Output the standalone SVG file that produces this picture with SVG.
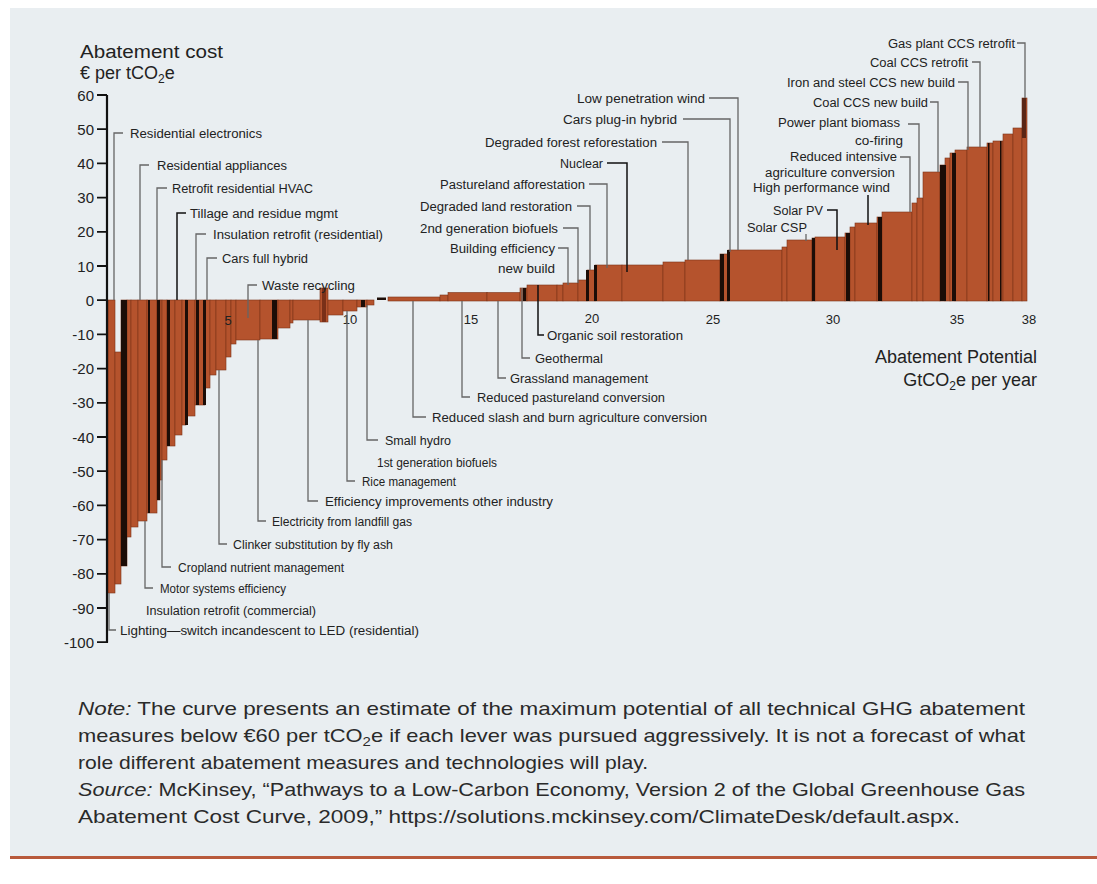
<svg xmlns="http://www.w3.org/2000/svg" width="1097" height="884" viewBox="0 0 1097 884">
<style>
.b{fill:#b5532d;stroke:#7c3318;stroke-width:0.6}
.d{fill:#1c0d07}
.l{font-family:"Liberation Sans",Arial,sans-serif;font-size:12.5px;fill:#222}
.r{text-anchor:end}
.ld{fill:none;stroke:#666;stroke-width:1.3}
.lk{fill:none;stroke:#111;stroke-width:1.5}
.yt{font-family:"Liberation Sans",Arial,sans-serif;font-size:15px;fill:#222;text-anchor:end}
.xt{font-family:"Liberation Sans",Arial,sans-serif;font-size:13px;fill:#222;text-anchor:middle}
.tt{font-family:"Liberation Sans",Arial,sans-serif;font-size:18px;fill:#222}
.nt{font-family:"Liberation Sans",Arial,sans-serif;font-size:19px;fill:#2a2a2a}
</style>
<rect x="0" y="0" width="1097" height="884" fill="#ffffff"/>
<rect x="10" y="8" width="1087" height="848" fill="#e9eef1"/>
<rect x="10" y="856" width="1087" height="3" fill="#b85a3c"/>

<g id="bars">
<rect class="b" x="108" y="300" width="7" height="293"/>
<rect class="b" x="115" y="352" width="6" height="232"/>
<rect class="b" x="121" y="300" width="6" height="266"/>
<rect class="b" x="127" y="300" width="4" height="237"/>
<rect class="b" x="131" y="300" width="7" height="227"/>
<rect class="b" x="138" y="300" width="9" height="221"/>
<rect class="b" x="147" y="300" width="10" height="213"/>
<rect class="b" x="157" y="300" width="3" height="200"/>
<rect class="b" x="160" y="300" width="2" height="180"/>
<rect class="b" x="162" y="300" width="5" height="160"/>
<rect class="b" x="167" y="300" width="8" height="146"/>
<rect class="b" x="175" y="300" width="7" height="135"/>
<rect class="b" x="182" y="300" width="4" height="125"/>
<rect class="b" x="186" y="300" width="9" height="116"/>
<rect class="b" x="195" y="300" width="10" height="105"/>
<rect class="b" x="205" y="300" width="5" height="88"/>
<rect class="b" x="210" y="300" width="6" height="75"/>
<rect class="b" x="216" y="300" width="10" height="70"/>
<rect class="b" x="226" y="300" width="5" height="57"/>
<rect class="b" x="231" y="300" width="5" height="44"/>
<rect class="b" x="236" y="300" width="24" height="40"/>
<rect class="b" x="260" y="300" width="18" height="39"/>
<rect class="b" x="278" y="300" width="12" height="28"/>
<rect class="b" x="290" y="300" width="3" height="23"/>
<rect class="b" x="293" y="300" width="27" height="20"/>
<rect class="b" x="320" y="288" width="8" height="34"/>
<rect class="b" x="328" y="300" width="15" height="15"/>
<rect class="b" x="343" y="300" width="14" height="11"/>
<rect class="b" x="357" y="300" width="10" height="7"/>
<rect class="b" x="367" y="300" width="7" height="5"/>

<rect class="b" x="388" y="297" width="52" height="4"/>
<rect class="b" x="440" y="295" width="8" height="6"/>
<rect class="b" x="448" y="292.5" width="39" height="8.5"/>
<rect class="b" x="487" y="292.5" width="33" height="8.5"/>
<rect class="b" x="520" y="288" width="7" height="13"/>
<rect class="b" x="527" y="285" width="30" height="16"/>
<rect class="b" x="557" y="285" width="6" height="16"/>
<rect class="b" x="563" y="283" width="15" height="18"/>
<rect class="b" x="578" y="280" width="9" height="21"/>
<rect class="b" x="587" y="270" width="8" height="31"/>
<rect class="b" x="595" y="265" width="27" height="36"/>
<rect class="b" x="622" y="265" width="41" height="36"/>
<rect class="b" x="663" y="262" width="22" height="39"/>
<rect class="b" x="685" y="260" width="35" height="41"/>
<rect class="b" x="720" y="254" width="8" height="47"/>
<rect class="b" x="728" y="250" width="54" height="51"/>
<rect class="b" x="782" y="247" width="5" height="54"/>
<rect class="b" x="787" y="240" width="25" height="61"/>
<rect class="b" x="812" y="238" width="3" height="63"/>
<rect class="b" x="815" y="237" width="30" height="64"/>
<rect class="b" x="845" y="233" width="5" height="68"/>
<rect class="b" x="850" y="227" width="5" height="74"/>
<rect class="b" x="855" y="223" width="22" height="78"/>
<rect class="b" x="877" y="217" width="5" height="84"/>
<rect class="b" x="882" y="212" width="30" height="89"/>
<rect class="b" x="912" y="203" width="5" height="98"/>
<rect class="b" x="917" y="198" width="6" height="103"/>
<rect class="b" x="923" y="172" width="17" height="129"/>
<rect class="b" x="940" y="165" width="5" height="136"/>
<rect class="b" x="945" y="158" width="5" height="143"/>
<rect class="b" x="950" y="153" width="5" height="148"/>
<rect class="b" x="955" y="150" width="12" height="151"/>
<rect class="b" x="967" y="147" width="20" height="154"/>
<rect class="b" x="987" y="143" width="6" height="158"/>
<rect class="b" x="993" y="141" width="10" height="160"/>
<rect class="b" x="1003" y="134" width="10" height="167"/>
<rect class="b" x="1013" y="128" width="9" height="173"/>
<rect class="b" x="1022" y="98" width="5" height="203"/>
</g>

<g id="dark-separators">
<rect class="d" x="121" y="300" width="6" height="266"/>
<rect class="d" x="148" y="300" width="2" height="213"/>
<rect class="d" x="157" y="300" width="3" height="200"/>
<rect class="d" x="167" y="300" width="3" height="146"/>
<rect class="d" x="185" y="300" width="3" height="125"/>
<rect class="d" x="196" y="300" width="3" height="105"/>
<rect class="d" x="203" y="300" width="3" height="105"/>
<rect class="d" x="272" y="300" width="5" height="39"/>
<rect x="322" y="288" width="4" height="34" fill="#7a3018"/>
<rect class="d" x="361" y="300" width="4" height="7"/>
<rect class="d" x="377" y="297.5" width="9" height="2.5"/>
<rect class="d" x="523" y="288" width="3" height="13"/>
<rect class="d" x="586" y="270" width="3" height="31"/>
<rect class="d" x="594" y="265" width="3" height="36"/>
<rect class="d" x="720" y="254" width="4" height="47"/>
<rect class="d" x="727" y="250" width="3" height="51"/>
<rect class="d" x="812" y="238" width="3" height="63"/>
<rect class="d" x="846" y="233" width="4" height="68"/>
<rect class="d" x="878" y="217" width="4" height="84"/>
<rect class="d" x="940" y="165" width="6" height="136"/>
<rect class="d" x="952" y="153" width="4" height="148"/>
<rect class="d" x="988" y="143" width="1.5" height="158"/>
<rect class="d" x="1000" y="141" width="1.5" height="160"/>
<rect x="1022" y="98" width="4" height="40" fill="#5a2616"/>
</g>

<g id="y-axis">
<path d="M107,95 V642.5" stroke="#111" stroke-width="2.2" fill="none"/>
<path d="M97,95 H107 M97,129.2 H107 M97,163.4 H107 M97,197.6 H107 M97,231.8 H107 M97,266 H107 M97,300.2 H107 M97,334.4 H107 M97,368.6 H107 M97,402.8 H107 M97,437 H107 M97,471.2 H107 M97,505.4 H107 M97,539.6 H107 M97,573.8 H107 M97,608 H107 M97,642.2 H108" stroke="#111" stroke-width="1.8" fill="none"/>
<text class="yt" x="94" y="100.5">60</text>
<text class="yt" x="94" y="134.7">50</text>
<text class="yt" x="94" y="168.9">40</text>
<text class="yt" x="94" y="203.1">30</text>
<text class="yt" x="94" y="237.3">20</text>
<text class="yt" x="94" y="271.5">10</text>
<text class="yt" x="94" y="305.7">0</text>
<text class="yt" x="94" y="339.9">-10</text>
<text class="yt" x="94" y="374.1">-20</text>
<text class="yt" x="94" y="408.3">-30</text>
<text class="yt" x="94" y="442.5">-40</text>
<text class="yt" x="94" y="476.7">-50</text>
<text class="yt" x="94" y="510.9">-60</text>
<text class="yt" x="94" y="545.1">-70</text>
<text class="yt" x="94" y="579.3">-80</text>
<text class="yt" x="94" y="613.5">-90</text>
<text class="yt" x="94" y="647.7">-100</text>
</g>

<g id="x-axis">
<text class="xt" x="228" y="325">5</text>
<text class="xt" x="350" y="324">10</text>
<text class="xt" x="471" y="324">15</text>
<text class="xt" x="592" y="323">20</text>
<text class="xt" x="713" y="324">25</text>
<text class="xt" x="833" y="324">30</text>
<text class="xt" x="957" y="324">35</text>
<text class="xt" x="1029" y="324">38</text>
</g>

<g id="axis-titles">
<text class="tt" x="80" y="58" textLength="143" lengthAdjust="spacingAndGlyphs">Abatement cost</text>
<text class="tt" x="80" y="79">€ per tCO<tspan font-size="12" dy="4">2</tspan><tspan dy="-4">e</tspan></text>
<text class="tt" x="1037" y="363" text-anchor="end">Abatement Potential</text>
<text class="tt" x="1037" y="386" text-anchor="end">GtCO<tspan font-size="12" dy="4">2</tspan><tspan dy="-4">e per year</tspan></text>
</g>

<g id="connectors">
<path class="ld" d="M123,133 H114 V300"/>
<path class="ld" d="M149,165 H140 V300"/>
<path class="ld" d="M167,188 H157 V300"/>
<path class="lk" d="M186,213 H177 V300"/>
<path class="ld" d="M206,234 H196 V300"/>
<path class="ld" d="M217,258 H207 V300"/>
<path class="ld" d="M257,285 H248 V318"/>
<path class="ld" d="M367,305 V440 H378"/>
<path class="ld" d="M347,311 V481 H355"/>
<path class="ld" d="M308,320 V501 H318"/>
<path class="ld" d="M258,340 V521 H266"/>
<path class="ld" d="M219,370 V544 H227"/>
<path class="ld" d="M162,460 V567 H171"/>
<path class="ld" d="M145,521 V588 H153"/>
<path class="ld" d="M109,593 V630 H116"/>
<path class="lk" d="M538,285 V335 H544"/>
<path class="ld" d="M522,288 V358 H530"/>
<path class="ld" d="M498,301 V378 H506"/>
<path class="ld" d="M462,301 V397 H470"/>
<path class="ld" d="M413,301 V417 H426"/>
<path class="ld" d="M709,98 H738 V250"/>
<path class="ld" d="M683,119 H730 V252"/>
<path class="ld" d="M662,142 H688 V260"/>
<path class="lk" d="M607,163 H627 V272"/>
<path class="ld" d="M589,184 H607 V268"/>
<path class="ld" d="M577,206 H590 V270"/>
<path class="ld" d="M563,228 H578 V283"/>
<path class="ld" d="M558,248 H568 V285"/>
<path class="ld" d="M1017,43 H1025 V98"/>
<path class="ld" d="M972,62 H980 V147"/>
<path class="ld" d="M958,82 H968 V150"/>
<path class="ld" d="M930,102 H938 V172"/>
<path class="ld" d="M908,124 H919 V198"/>
<path class="ld" d="M900,157 H910 V212"/>
<path class="lk" d="M868,195 V225"/>
<path class="lk" d="M827,210 H837 V250"/>
<path class="ld" d="M806,234 V241"/>
</g>

<g id="label-residential-electronics"><text class="l" x="130" y="137.5" textLength="132" lengthAdjust="spacingAndGlyphs">Residential electronics</text></g>
<g id="label-residential-appliances"><text class="l" x="157" y="169.5" textLength="130" lengthAdjust="spacingAndGlyphs">Residential appliances</text></g>
<g id="label-retrofit-hvac"><text class="l" x="172" y="192.5" textLength="141" lengthAdjust="spacingAndGlyphs">Retrofit residential HVAC</text></g>
<g id="label-tillage"><text class="l" x="190" y="217.5" textLength="148" lengthAdjust="spacingAndGlyphs">Tillage and residue mgmt</text></g>
<g id="label-insulation-res"><text class="l" x="213" y="238.5" textLength="170" lengthAdjust="spacingAndGlyphs">Insulation retrofit (residential)</text></g>
<g id="label-cars-full-hybrid"><text class="l" x="222" y="262.5" textLength="86" lengthAdjust="spacingAndGlyphs">Cars full hybrid</text></g>
<g id="label-waste-recycling"><text class="l" x="262" y="289.5" textLength="93" lengthAdjust="spacingAndGlyphs">Waste recycling</text></g>

<g id="label-small-hydro"><text class="l" x="385" y="444.5" textLength="66" lengthAdjust="spacingAndGlyphs">Small hydro</text></g>
<g id="label-1st-gen-biofuels"><text class="l" x="377" y="466.5" textLength="120" lengthAdjust="spacingAndGlyphs">1st generation biofuels</text></g>
<g id="label-rice"><text class="l" x="362" y="485.5" textLength="94" lengthAdjust="spacingAndGlyphs">Rice management</text></g>
<g id="label-efficiency-industry"><text class="l" x="325" y="505.5" textLength="228" lengthAdjust="spacingAndGlyphs">Efficiency improvements other industry</text></g>
<g id="label-landfill"><text class="l" x="272" y="525.5" textLength="140" lengthAdjust="spacingAndGlyphs">Electricity from landfill gas</text></g>
<g id="label-clinker"><text class="l" x="233" y="548.5" textLength="160" lengthAdjust="spacingAndGlyphs">Clinker substitution by fly ash</text></g>
<g id="label-cropland"><text class="l" x="178" y="571.5" textLength="166" lengthAdjust="spacingAndGlyphs">Cropland nutrient management</text></g>
<g id="label-motor"><text class="l" x="160" y="592.5" textLength="126" lengthAdjust="spacingAndGlyphs">Motor systems efficiency</text></g>
<g id="label-insulation-com"><text class="l" x="146" y="614.5" textLength="170" lengthAdjust="spacingAndGlyphs">Insulation retrofit (commercial)</text></g>
<g id="label-lighting"><text class="l" x="120" y="634.5" textLength="299" lengthAdjust="spacingAndGlyphs">Lighting—switch incandescent to LED (residential)</text></g>

<g id="label-organic-soil"><text class="l" x="547" y="339.5" textLength="136" lengthAdjust="spacingAndGlyphs">Organic soil restoration</text></g>
<g id="label-geothermal"><text class="l" x="535" y="362.5" textLength="68" lengthAdjust="spacingAndGlyphs">Geothermal</text></g>
<g id="label-grassland"><text class="l" x="510" y="382.5" textLength="138" lengthAdjust="spacingAndGlyphs">Grassland management</text></g>
<g id="label-pastureland-conv"><text class="l" x="477" y="401.5" textLength="188" lengthAdjust="spacingAndGlyphs">Reduced pastureland conversion</text></g>
<g id="label-slash-burn"><text class="l" x="432" y="421.5" textLength="275" lengthAdjust="spacingAndGlyphs">Reduced slash and burn agriculture conversion</text></g>

<g id="label-low-pen-wind"><text class="l r" x="705" y="102.5" textLength="128" lengthAdjust="spacingAndGlyphs">Low penetration wind</text></g>
<g id="label-cars-plugin"><text class="l r" x="677" y="123.5" textLength="114" lengthAdjust="spacingAndGlyphs">Cars plug-in hybrid</text></g>
<g id="label-degraded-forest"><text class="l r" x="657" y="146.5" textLength="172" lengthAdjust="spacingAndGlyphs">Degraded forest reforestation</text></g>
<g id="label-nuclear"><text class="l r" x="603" y="167.5" textLength="43" lengthAdjust="spacingAndGlyphs">Nuclear</text></g>
<g id="label-pastureland-aff"><text class="l r" x="585" y="188.5" textLength="145" lengthAdjust="spacingAndGlyphs">Pastureland afforestation</text></g>
<g id="label-degraded-land"><text class="l r" x="572" y="210.5" textLength="152" lengthAdjust="spacingAndGlyphs">Degraded land restoration</text></g>
<g id="label-2nd-gen-biofuels"><text class="l r" x="558" y="232.5" textLength="138" lengthAdjust="spacingAndGlyphs">2nd generation biofuels</text></g>
<g id="label-building-eff"><text class="l r" x="555" y="252.5" textLength="105" lengthAdjust="spacingAndGlyphs">Building efficiency</text><text class="l r" x="555" y="272.5" textLength="57" lengthAdjust="spacingAndGlyphs">new build</text></g>

<g id="label-gas-ccs-retrofit"><text class="l r" x="1015" y="47.5" textLength="127" lengthAdjust="spacingAndGlyphs">Gas plant CCS retrofit</text></g>
<g id="label-coal-ccs-retrofit"><text class="l r" x="968" y="66.5" textLength="98" lengthAdjust="spacingAndGlyphs">Coal CCS retrofit</text></g>
<g id="label-iron-steel"><text class="l r" x="955" y="86.5" textLength="168" lengthAdjust="spacingAndGlyphs">Iron and steel CCS new build</text></g>
<g id="label-coal-ccs-new"><text class="l r" x="928" y="106.5" textLength="115" lengthAdjust="spacingAndGlyphs">Coal CCS new build</text></g>
<g id="label-biomass"><text class="l r" x="900" y="126.5" textLength="122" lengthAdjust="spacingAndGlyphs">Power plant biomass</text><text class="l r" x="903" y="144.5" textLength="48" lengthAdjust="spacingAndGlyphs">co-firing</text></g>
<g id="label-reduced-intensive"><text class="l r" x="897" y="160.5" textLength="107" lengthAdjust="spacingAndGlyphs">Reduced intensive</text><text class="l r" x="895" y="176.5" textLength="130" lengthAdjust="spacingAndGlyphs">agriculture conversion</text></g>
<g id="label-high-perf-wind"><text class="l r" x="890" y="191.5" textLength="137" lengthAdjust="spacingAndGlyphs">High performance wind</text></g>
<g id="label-solar-pv"><text class="l r" x="823" y="214.5" textLength="50" lengthAdjust="spacingAndGlyphs">Solar PV</text></g>
<g id="label-solar-csp"><text class="l r" x="807" y="231.5" textLength="60" lengthAdjust="spacingAndGlyphs">Solar CSP</text></g>

<g id="note">
<text class="nt" x="78" y="715" textLength="947" lengthAdjust="spacingAndGlyphs"><tspan font-style="italic">Note:</tspan> The curve presents an estimate of the maximum potential of all technical GHG abatement</text>
<text class="nt" x="78" y="742" textLength="947" lengthAdjust="spacingAndGlyphs">measures below €60 per tCO<tspan font-size="13" dy="4">2</tspan><tspan dy="-4">e if each lever was pursued aggressively. It is not a forecast of what</tspan></text>
<text class="nt" x="78" y="769" textLength="570" lengthAdjust="spacingAndGlyphs">role different abatement measures and technologies will play.</text>
<text class="nt" x="78" y="796" textLength="947" lengthAdjust="spacingAndGlyphs"><tspan font-style="italic">Source:</tspan> McKinsey, “Pathways to a Low-Carbon Economy, Version 2 of the Global Greenhouse Gas</text>
<text class="nt" x="78" y="823" textLength="882" lengthAdjust="spacingAndGlyphs">Abatement Cost Curve, 2009,” https://solutions.mckinsey.com/ClimateDesk/default.aspx.</text>
</g>
</svg>
